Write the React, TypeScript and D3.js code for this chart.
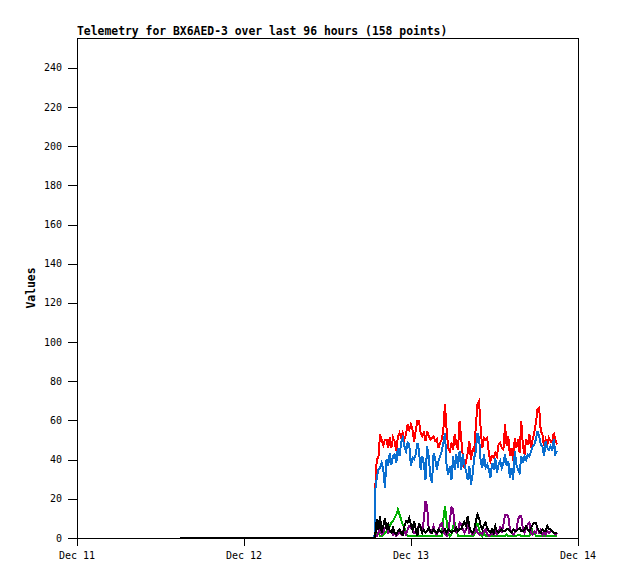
import React from "react";
import * as d3 from "d3";

const title = "Telemetry for BX6AED-3 over last 96 hours (158 points)";
const yLabel = "Values";
const xTickDates = ["2024-12-11T00:00:00Z", "2024-12-12T00:00:00Z", "2024-12-13T00:00:00Z", "2024-12-14T00:00:00Z"];
const xTickLabels = ["Dec 11", "Dec 12", "Dec 13", "Dec 14"];
const yTicks = [0, 20, 40, 60, 80, 100, 120, 140, 160, 180, 200, 220, 240];

// idle period before telemetry started (all channels 0)
const leadTimes = ["2024-12-11T14:48:00Z", "2024-12-12T18:45:00Z"];
const leadValues = [0, 0];
const sampleStart = "2024-12-12T18:51:00Z";
const sampleMinutes = 14;

const red = [
  24.5, 40, 41, 52.6, 50, 47, 50, 50, 45.8, 51, 45.8, 51, 49, 44, 51.7, 53.5, 51, 53.5, 50, 52.6, 57.7, 55, 57.7, 55, 49, 55, 59.4,
  59.4, 53.5, 51.7, 53.5, 49.2, 54.3, 51.7, 50.1, 50.9, 51.7, 49.2, 50.1, 45.8, 48.4, 50.1, 55.2, 67.9, 55.2, 45.8, 44.1, 48.4, 44.9, 52.6, 47.5, 44.9, 59.4, 50.1, 41.5, 35.6,
  39.0, 43.2, 49.2, 39.8, 44.9, 44.1, 56.9, 67.9, 69.6, 55.2, 45.8, 50.9, 50.1, 50.9, 43.2, 39.0, 41.5, 40.7, 43.2, 41.5, 47.5, 48.4, 45.8, 44.9, 57.7, 46.6, 51.7, 41.5, 45.8,
  39.0, 50.9, 45.8, 50.1, 43.2, 59.4, 46.6, 42.4, 50.1, 47.5, 52.6, 45.8, 50.1, 53.5, 58.6, 65.4, 66.2, 54.3, 52.6, 46.6, 50.1, 47.5, 50.9, 49.2, 48.4, 53.5, 50.1, 47.5,
];
const blue = [
  23.6, 30.5, 34.7, 35.6, 38.1, 34.7, 25.4, 39.8, 36.4, 43.2, 37.3, 41.5, 42.4, 38.1, 45.8, 41.5, 48.4, 50.9, 46.6, 44.1, 48.4, 47.5, 36.4, 40.7, 39.8, 42.4, 48.4,
  44.1, 34.7, 41.5, 37.3, 29.6, 46.6, 41.5, 31.3, 27.9, 43.2, 39.8, 34.7, 39.0, 41.5, 44.1, 48.4, 53.5, 36.4, 32.2, 36.4, 29.6, 41.5, 34.7, 42.4, 35.6, 44.1, 34.7, 42.4, 37.3,
  33.9, 29.6, 36.4, 27.1, 32.2, 40.7, 44.1, 53.5, 50.9, 39.0, 35.6, 42.4, 35.6, 37.3, 34.7, 30.5, 38.1, 34.7, 40.7, 33.0, 37.3, 39.0, 35.6, 38.1, 42.4, 36.4, 39.0, 30.5, 35.6,
  29.6, 44.1, 37.3, 34.7, 33.0, 41.5, 38.1, 41.5, 39.8, 42.4, 41.5, 44.1, 46.6, 47.5, 50.1, 54.3, 51.7, 47.5, 46.6, 41.5, 49.2, 45.8, 44.9, 46.6, 44.1, 50.1, 42.4, 44.1,
];
const green = [
  0.7, 1.5, 2.4, 0.7, 0.7, 1.5, 2.4, 3.2, 4.9, 5.8, 7.5, 8.3, 10.0, 11.7, 14.3, 11.7, 9.2, 6.6, 4.9, 2.4, 0.7, 0.7, 0.7, 0.7, 0.7, 0.7, 0.7,
  0.7, 0.7, 0.7, 0.7, 0.7, 0.7, 0.7, 0.7, 0.7, 0.7, 0.7, 0.7, 0.7, 0.7, 0.7, 9.2, 16.0, 8.3, 2.4, 0.7, 1.5, 5.8, 7.5, 4.1, 0.7, 0.7, 0.7, 0.7, 0.7,
  0.7, 0.7, 0.7, 0.7, 0.7, 1.5, 4.1, 7.5, 4.1, 1.5, 0.7, 2.4, 0.7, 0.7, 0.7, 0.7, 0.7, 0.7, 0.7, 0.7, 0.7, 0.7, 0.7, 0.7, 0.7, 1.5, 0.7, 0.7, 0.7,
  0.7, 0.7, 0.7, 1.5, 1.5, 0.7, 0.7, 0.7, 0.7, 0.7, 0.7, 5.8, 2.4, 3.2, 0.7, 0.7, 0.7, 0.7, 0.7, 0.7, 1.5, 0.7, 0.7, 0.7, 0.7, 0.7, 0.7, 0.7,
];
const purple = [
  0.7, 0.7, 2.4, 4.1, 1.5, 2.4, 4.9, 5.8, 2.4, 3.2, 3.2, 1.5, 2.4, 0.7, 1.5, 2.4, 1.5, 3.2, 3.2, 1.5, 4.1, 5.8, 4.9, 4.9, 2.4, 2.4, 4.1,
  6.6, 5.8, 3.2, 9.2, 18.5, 16.0, 4.1, 2.4, 3.2, 5.8, 2.4, 1.5, 3.2, 6.6, 7.5, 3.2, 1.5, 0.7, 2.4, 9.2, 15.2, 14.3, 4.9, 2.4, 3.2, 7.5, 6.6, 4.1, 2.4,
  4.1, 6.6, 2.4, 3.2, 1.5, 2.4, 5.8, 2.4, 1.5, 2.4, 1.5, 3.2, 4.1, 1.5, 0.7, 1.5, 2.4, 1.5, 3.2, 1.5, 2.4, 5.8, 2.4, 6.6, 11.7, 11.7, 10.9, 4.1, 2.4,
  1.5, 2.4, 4.1, 9.2, 10.9, 10.9, 4.1, 2.4, 4.9, 6.6, 7.5, 2.4, 1.5, 3.2, 2.4, 4.9, 2.4, 4.1, 1.5, 3.2, 1.5, 3.2, 2.4, 3.2, 3.2, 2.4, 1.5, 2.4,
];
const black = [
  0.7, 9.2, 4.1, 10.9, 2.4, 5.8, 10.0, 4.1, 6.6, 3.2, 2.4, 4.9, 2.4, 1.5, 3.2, 4.1, 2.4, 1.5, 5.8, 8.3, 7.5, 10.0, 6.6, 4.1, 8.3, 4.1, 0.7,
  7.5, 4.9, 2.4, 4.1, 2.4, 3.2, 4.9, 3.2, 2.4, 4.1, 3.2, 2.4, 4.1, 3.2, 2.4, 3.2, 4.1, 2.4, 4.1, 3.2, 2.4, 3.2, 3.2, 4.9, 3.2, 4.1, 4.1, 6.6, 8.0,
  5.8, 10.9, 5.8, 3.2, 2.4, 4.1, 8.3, 11.7, 10.0, 5.8, 4.1, 6.6, 7.5, 4.9, 3.2, 2.4, 4.1, 2.4, 5.8, 3.2, 2.4, 3.2, 4.1, 3.2, 3.2, 4.1, 4.1, 3.2, 2.4,
  4.1, 3.2, 3.2, 4.1, 4.9, 3.2, 3.2, 4.1, 5.8, 4.1, 3.2, 4.9, 6.6, 7.5, 7.5, 4.9, 3.2, 2.4, 4.1, 3.2, 3.2, 5.8, 4.1, 4.1, 3.2, 2.4, 2.4, 2.4,
];

const seriesList = [
  { name: "ch1", values: red, color: "#ff0000" },
  { name: "ch2", values: blue, color: "#0a6fd0" },
  { name: "ch3", values: green, color: "#00b000" },
  { name: "ch4", values: purple, color: "#800080" },
  { name: "ch5", values: black, color: "#000000" },
];

const W = 618;
const H = 579;
const M = { left: 77, right: 40, top: 38, bottom: 41 };

export default function App() {
  const x = d3
    .scaleUtc()
    .domain([new Date(xTickDates[0]), new Date(xTickDates[xTickDates.length - 1])])
    .range([M.left, W - M.right]);
  const y = d3.scaleLinear().domain([0, 255.3]).range([H - M.bottom, M.top]);

  const t0 = new Date(sampleStart).getTime();
  const buildPoints = (vals: number[]) => {
    const pts: [Date, number][] = leadTimes.map((t, i) => [new Date(t), leadValues[i]]);
    vals.forEach((v, i) => pts.push([new Date(t0 + i * sampleMinutes * 60000), v]));
    return pts;
  };
  const line = d3
    .line<[Date, number]>()
    .x((d) => x(d[0]))
    .y((d) => y(d[1]) - 0.5);

  const x0 = M.left;
  const x1 = W - M.right;
  const yb = H - M.bottom;
  const yt = M.top;
  const mono = "'DejaVu Sans Mono', 'Liberation Mono', monospace";

  return (
    <svg width={W} height={H} style={{ position: "absolute", left: 0, top: 0, background: "#fff" }}>
      <rect x={0} y={0} width={W} height={H} fill="#fff" />
      <text x={x0} y={35} fontFamily={mono} fontWeight="bold" fontSize={11.4} fill="#000">
        {title}
      </text>
      <g shapeRendering="crispEdges" stroke="#000" strokeWidth={1}>
        <line x1={x0} y1={yt} x2={x1} y2={yt} />
        <line x1={x0} y1={yt} x2={x0} y2={yb} />
        <line x1={x1} y1={yt} x2={x1} y2={yb} />
        <line x1={x0} y1={yb} x2={x1} y2={yb} />
        {yTicks.map((t) => (
          <line key={"yt" + t} x1={x0 - 9} x2={x0} y1={Math.round(y(t))} y2={Math.round(y(t))} />
        ))}
        {xTickDates.map((d) => (
          <line key={"xt" + d} x1={Math.round(x(new Date(d)))} x2={Math.round(x(new Date(d)))} y1={yb} y2={yb + 8} />
        ))}
      </g>
      {yTicks.map((t) => (
        <text key={"yl" + t} x={62} y={y(t) + 3.5} textAnchor="end" fontFamily={mono} fontSize={10} fill="#000">
          {t}
        </text>
      ))}
      {xTickDates.map((d, i) => (
        <text key={"xl" + d} x={x(new Date(d))} y={559} textAnchor="middle" fontFamily={mono} fontSize={10} fill="#000">
          {xTickLabels[i]}
        </text>
      ))}
      <text
        transform={`translate(35, ${(yt + yb) / 2}) rotate(-90)`}
        textAnchor="middle"
        fontFamily={mono}
        fontWeight="bold"
        fontSize={11.4}
        fill="#000"
      >
        {yLabel}
      </text>
      <g fill="none" strokeWidth={2} strokeLinejoin="miter" shapeRendering="crispEdges">
        {seriesList.map((s) => (
          <path key={s.name} d={line(buildPoints(s.values)) || ""} stroke={s.color} />
        ))}
      </g>
    </svg>
  );
}
